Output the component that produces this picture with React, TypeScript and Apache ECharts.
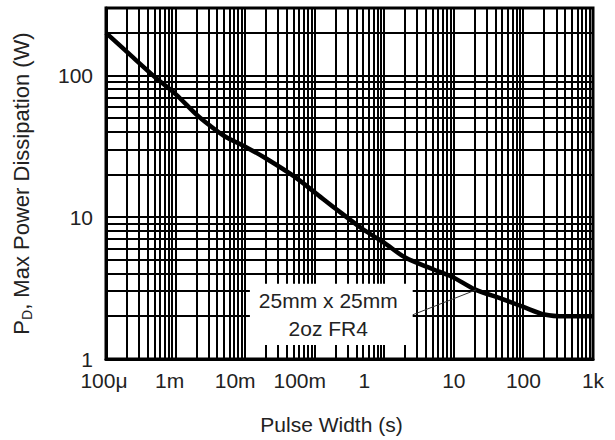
import React, { useEffect, useRef } from 'react';
import * as echarts from 'echarts';

// Curve (pulse width in s, max power in W)
const pulseWidth = [1e-4, 2e-4, 5e-4, 1e-3, 2e-3, 3e-3, 5e-3, 1e-2, 2e-2, 5e-2, 0.1, 0.2, 0.5, 1, 2, 5, 10, 20, 50, 100, 200, 400, 1000];
const maxPower = [200, 147, 98, 74, 53, 45, 37.5, 31.5, 26, 19.5, 15, 11.5, 8.2, 6.6, 5.2, 4.3, 3.75, 3.1, 2.65, 2.33, 2.06, 2.0, 2.0];

// Axis tick labels (one per decade)
const xTickLabels = ['100μ', '1m', '10m', '100m', '1', '10', '100', '1k'];
const xFirstExp = -4;
const yTickLabels = ['1', '10', '100'];

// Grid lines: mantissas within each decade
const gridMantissas = [1, 2, 3, 4, 5, 6, 7, 8, 9];
const xDecades = [1e-4, 1e-3, 1e-2, 1e-1, 1, 10, 100];
const yDecades = [1, 10];
const yExtraLines = [100, 200, 300];
const xExtraLines = [1000];

const X_MIN = 1e-4;
const X_MAX = 1000;
const Y_MIN = 1;
const Y_MAX = 300;

// Annotation box (data coordinates) and its leader line
const boxCorners = [[0.0117, 3.4], [2.56, 1.257]];
const boxText = ['25mm x 25mm', '2oz FR4'];
const leaderLine = [[2.56, 2.05], [21, 3.08]];

// Per-label horizontal shift (px) to mimic the reference placement
const xLabelShift = [-2, -6, -10, -15, -20, 0, 0, 0];

const FONT = '"Liberation Sans", Arial, sans-serif';
const FS = 21;

export default function App() {
  const ref = useRef<HTMLDivElement>(null);

  useEffect(() => {
    if (!ref.current) return;
    const chart = echarts.init(ref.current, undefined, { renderer: 'svg' });

    const xGrid: number[] = [];
    xDecades.forEach((d) => gridMantissas.forEach((m) => xGrid.push(m * d)));
    xExtraLines.forEach((v) => xGrid.push(v));
    const yGrid: number[] = [];
    yDecades.forEach((d) => gridMantissas.forEach((m) => yGrid.push(m * d)));
    yExtraLines.forEach((v) => yGrid.push(v));

    const rich: Record<string, any> = {};
    xLabelShift.forEach((s, i) => {
      rich['l' + i] = {
        fontSize: FS,
        fontFamily: FONT,
        color: '#222',
        padding: s < 0 ? [0, -2 * s, 0, 0] : [0, 0, 0, 2 * s],
      };
    });

    const gridLineStyle = { stroke: '#000', lineWidth: 2 };

    chart.setOption({
      animation: false,
      backgroundColor: '#fff',
      grid: {
        left: 96,
        right: 22,
        top: 8,
        bottom: 79,
        show: true,
        borderColor: '#000',
        borderWidth: 3,
        backgroundColor: 'transparent',
      },
      xAxis: {
        type: 'log',
        logBase: 10,
        min: X_MIN,
        max: X_MAX,
        splitNumber: 7,
        axisLine: { show: true, lineStyle: { color: '#000', width: 3 } },
        axisTick: { show: false },
        splitLine: { show: false },
        minorSplitLine: { show: false },
        axisLabel: {
          margin: 11,
          fontSize: FS,
          fontFamily: FONT,
          color: '#222',
          formatter: (v: number) => {
            const e = Math.log10(v);
            const r = Math.round(e);
            if (Math.abs(e - r) > 1e-6) return '';
            const i = r - xFirstExp;
            if (i < 0 || i >= xTickLabels.length) return '';
            return '{l' + i + '|' + xTickLabels[i] + '}';
          },
          rich,
        },
        name: 'Pulse Width (s)',
        nameLocation: 'middle',
        nameGap: 55,
        nameTextStyle: {
          fontSize: FS,
          fontFamily: FONT,
          color: '#222',
          padding: [0, 36, 0, 0],
        },
      },
      yAxis: {
        type: 'log',
        logBase: 10,
        min: Y_MIN,
        max: Y_MAX,
        splitNumber: 3,
        axisLine: { show: true, lineStyle: { color: '#000', width: 3 } },
        axisTick: { show: false },
        splitLine: { show: false },
        axisLabel: {
          margin: 13,
          fontSize: FS,
          fontFamily: FONT,
          color: '#222',
          padding: [0, 0, 5, 0],
          formatter: (v: number) => {
            const e = Math.log10(v);
            const r = Math.round(e);
            if (Math.abs(e - r) > 1e-6) return '';
            return yTickLabels[r] ?? '';
          },
        },
        name: 'P{sub|D}, Max Power Dissipation (W)',
        nameLocation: 'middle',
        nameGap: 72,
        nameTextStyle: {
          fontSize: 22,
          fontFamily: FONT,
          color: '#222',
          lineHeight: 26,
          rich: {
            sub: {
              fontSize: 14,
              fontFamily: FONT,
              color: '#222',
              lineHeight: 14,
              verticalAlign: 'bottom',
            },
          },
        },
      },
      series: [
        {
          type: 'custom',
          name: 'vgrid',
          silent: true,
          z: 0,
          data: xGrid.map((v) => [v, Y_MIN]),
          encode: { x: 0, y: 1 },
          renderItem: (_p: any, api: any) => {
            const v = api.value(0);
            const a = api.coord([v, Y_MIN]);
            const b = api.coord([v, Y_MAX]);
            const x = Math.round(a[0]);
            return { type: 'line', shape: { x1: x, y1: a[1], x2: x, y2: b[1] }, style: gridLineStyle };
          },
        },
        {
          type: 'custom',
          name: 'hgrid',
          silent: true,
          z: 0,
          data: yGrid.map((v) => [X_MIN, v]),
          encode: { x: 0, y: 1 },
          renderItem: (_p: any, api: any) => {
            const v = api.value(1);
            const a = api.coord([X_MIN, v]);
            const b = api.coord([X_MAX, v]);
            const y = Math.round(a[1]);
            return { type: 'line', shape: { x1: a[0], y1: y, x2: b[0], y2: y }, style: gridLineStyle };
          },
        },
        {
          type: 'line',
          name: 'PD',
          z: 5,
          data: pulseWidth.map((t, i) => [t, maxPower[i]]),
          showSymbol: false,
          symbol: 'none',
          smooth: 0.3,
          lineStyle: { color: '#000', width: 4.5 },
          markArea: {
            silent: true,
            z: 3,
            itemStyle: { color: '#fff', opacity: 1, borderWidth: 0 },
            label: {
              show: true,
              position: 'inside',
              formatter: boxText.join('\n'),
              fontSize: FS,
              lineHeight: 28,
              fontFamily: FONT,
              color: '#222',
              align: 'center',
              padding: [14, 6, 0, 0],
            },
            data: [[{ coord: boxCorners[0] }, { coord: boxCorners[1] }]],
          },
          markLine: {
            silent: true,
            z: 6,
            symbol: 'none',
            label: { show: false },
            lineStyle: { color: '#333', width: 1, type: 'solid' },
            data: [[{ coord: leaderLine[0] }, { coord: leaderLine[1] }]],
          },
        },
      ],
    });

    return () => chart.dispose();
  }, []);

  return <div ref={ref} style={{ width: 615, height: 440, position: 'absolute', left: 0, top: 0 }} />;
}
